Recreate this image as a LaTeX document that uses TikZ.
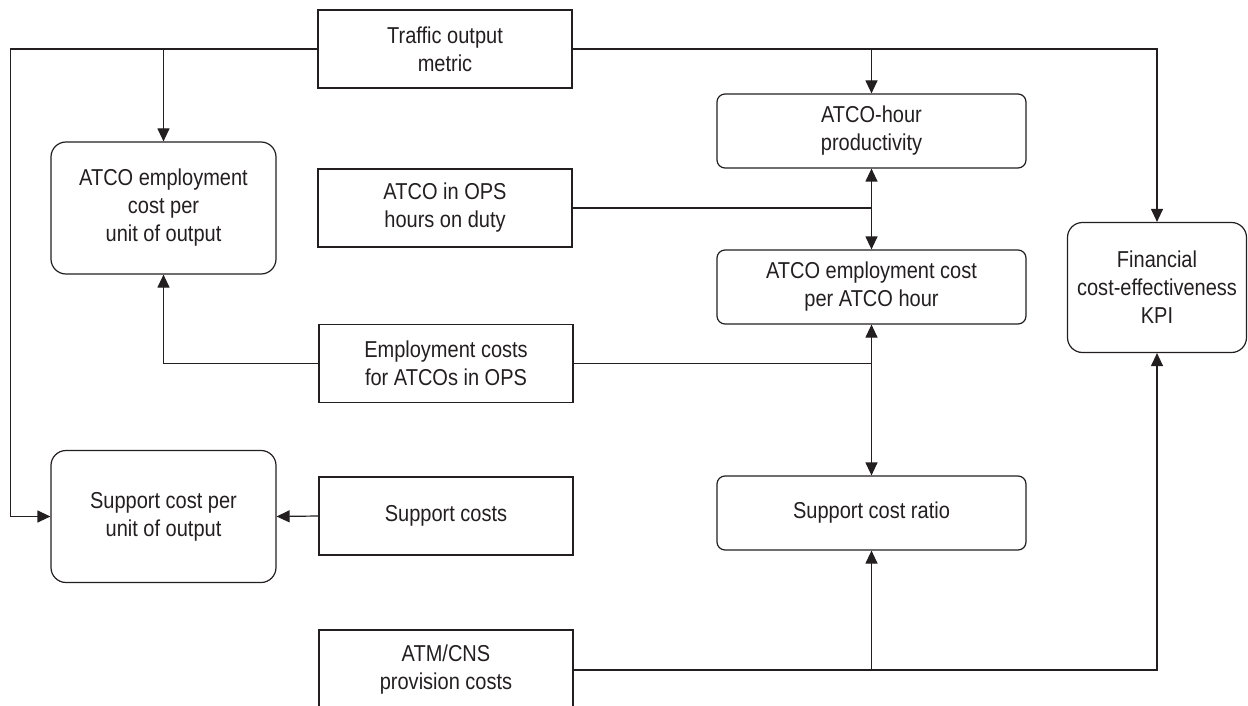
\documentclass[tikz,border=0pt]{standalone}
\usepackage{fontspec}
\setmainfont[FakeStretch=0.87]{Liberation Sans}
\usetikzlibrary{arrows.meta,calc}
\definecolor{ink}{HTML}{231F20}
\begin{document}
\begin{tikzpicture}[x=1pt,y=-1pt,
  every node/.style={font=\fontsize{23pt}{28pt}\selectfont, text=ink, align=center, inner sep=0pt},
  sqbox/.style={draw=ink, line width=1.2pt, rectangle, minimum width=254pt, minimum height=78pt},
  bigrnd/.style={draw=ink, line width=1.2pt, rectangle, rounded corners=15pt, minimum width=225pt, minimum height=132pt},
  midrnd/.style={draw=ink, line width=1.2pt, rectangle, rounded corners=8pt, minimum width=309pt, minimum height=74pt},
  conn/.style={draw=ink, line width=1.2pt},
  arr/.style={conn, -{Triangle[length=13pt,width=12pt]}},
  biarr/.style={conn, {Triangle[length=13pt,width=12pt]}-{Triangle[length=13pt,width=12pt]}}
]
\useasboundingbox (0,0) rectangle (1248,706);

% source boxes
\node[sqbox] (traffic) at (445,49) {Traffic output\\metric};
\node[sqbox] (opsh) at (445,208) {ATCO in OPS\\hours on duty};
\node[sqbox] (empc) at (446,363.5) {Employment costs\\for ATCOs in OPS};
\node[sqbox] (supc) at (446,516) {Support costs};
\node[sqbox, minimum height=80pt] (atm) at (446,670) {ATM/CNS\\provision costs};

% left indicators
\node[bigrnd] (apu) at (163.5,208) {ATCO employment\\cost per\\unit of output};
\node[bigrnd] (spu) at (163.5,516.5) {Support cost per\\unit of output};

% middle indicators
\node[midrnd] (ahp) at (871.5,131) {ATCO-hour\\productivity};
\node[midrnd] (ech) at (871.5,287) {ATCO employment cost\\per ATCO hour};
\node[midrnd] (scr) at (871.5,513) {Support cost ratio};

% KPI
\node[draw=ink, line width=1.2pt, rectangle, rounded corners=15pt, minimum width=179pt, minimum height=130pt] (fin) at (1157,287.5) {Financial\\cost-effectiveness\\KPI};

% traffic connectors
\draw[arr] (traffic.west) -| ($(spu.west)+(-40,0)$) -- (spu.west);
\draw[arr] (apu.north |- traffic.west) -- (apu.north);
\draw[arr] (traffic.east) -| (fin.north);
\draw[arr] (ahp.north |- traffic.east) -- (ahp.north);

% ATCO in OPS hours
\draw[conn] (opsh.east) -- (ahp.south |- opsh.east);
\draw[biarr] (ahp.south) -- (ech.north);

% employment costs
\draw[conn] (empc.east) -- (ech.south |- empc.east);
\draw[biarr] (ech.south) -- (scr.north);
\draw[arr] (empc.west) -| (apu.south);

% support costs
\draw[arr] (supc.west) -- (spu.east);

% ATM/CNS provision costs
\draw[arr] (atm.east) -| (fin.south);
\draw[arr] (scr.south |- atm.east) -- (scr.south);
\end{tikzpicture}
\end{document}
